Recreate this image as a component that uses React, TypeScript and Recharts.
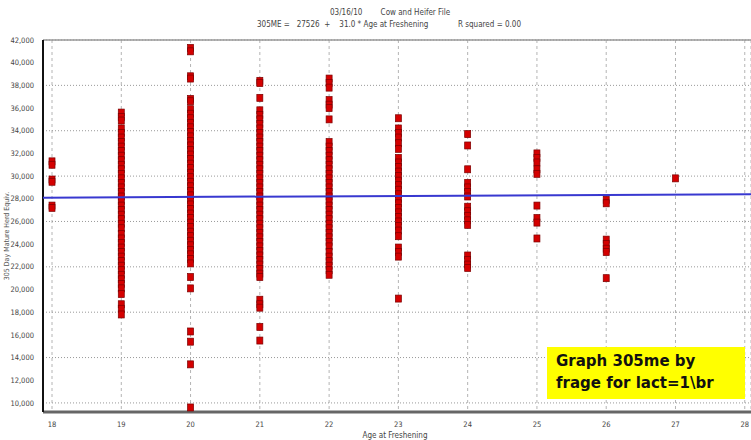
/* Graph 305ME by age at freshening — scatter with a flat fit line */

import React from "react";
import {
  ScatterChart,
  Scatter,
  XAxis,
  YAxis,
  CartesianGrid,
  ReferenceLine,
} from "recharts";

const AGE_TICKS = [18, 19, 20, 21, 22, 23, 24, 25, 26, 27, 28];
const ME_TICKS = [
  10000, 12000, 14000, 16000, 18000, 20000, 22000, 24000, 26000, 28000, 30000,
  32000, 34000, 36000, 38000, 40000, 42000,
];

// 305ME values read per age group
const age18 = [31300, 31000, 29700, 29500, 27400, 27200];
const age19 = [
  35600, 35200, 34900, 34200, 33800, 33400, 33000, 32600, 32200, 31800, 31400,
  31000, 30600, 30200, 29800, 29400, 29000, 28600, 28200, 27800, 27400, 27000,
  26600, 26200, 25800, 25400, 24900, 24500, 24100, 23700, 23300, 22900, 22500,
  22100, 21700, 21300, 20900, 20500, 20100, 19600, 18700, 18300, 17800,
];
const age20 = [
  41300, 41000, 38800, 38600, 36800, 36600, 35900, 35500, 35100, 34700, 34300,
  33900, 33500, 33100, 32700, 32300, 31900, 31500, 31100, 30700, 30300, 29900,
  29500, 29100, 28700, 28300, 27900, 27500, 27100, 26700, 26300, 25900, 25500,
  25100, 24700, 24300, 23900, 23500, 23100, 22700, 22300, 21100, 20100, 16300,
  15400, 13400, 9600,
];
const age21 = [
  38400, 38200, 36900, 35800, 35400, 35000, 34600, 34200, 33800, 33400, 33000,
  32600, 32200, 31800, 31400, 31000, 30600, 30200, 29800, 29400, 29000, 28600,
  28200, 27800, 27400, 27000, 26600, 26200, 25800, 25400, 25000, 24600, 24200,
  23800, 23400, 23000, 22600, 22200, 21800, 21400, 21100, 19100, 18700, 18400,
  16700, 15500,
];
const age22 = [
  38600, 38200, 37800, 36700, 36300, 36000, 35000, 33000, 32600, 32200, 31800,
  31400, 31000, 30600, 30200, 29800, 29400, 29000, 28600, 28200, 27800, 27400,
  27000, 26600, 26200, 25800, 25400, 25000, 24600, 24200, 23800, 23300, 22900,
  22500, 22100, 21700, 21300,
];
const age23 = [
  35100, 34200, 33800, 33400, 32900, 32400, 31600, 31200, 30800, 30400, 30000,
  29600, 29200, 28800, 28400, 28000, 27600, 27200, 26800, 26400, 26000, 25600,
  25200, 24700, 23700, 23300, 22900, 19200,
];
const age24 = [
  33700, 32700, 30600, 29400, 29000, 28600, 28200, 27300, 26900, 26500, 26100,
  25700, 23000, 22600, 22200, 21900,
];
const age25 = [32000, 31600, 31200, 30600, 30200, 27400, 26300, 25900, 24500];
const age26 = [27900, 27600, 24400, 24000, 23600, 23300, 21000];
const age27 = [29800];

const GROUP_AGES = [18, 19, 20, 21, 22, 23, 24, 25, 26, 27];
const GROUP_VALUES = [age18, age19, age20, age21, age22, age23, age24, age25, age26, age27];

// fitted line end points
const fitAges = [17.87, 28.09];
const fitValues = [28100, 28400];

const points = GROUP_AGES.flatMap((age, i) =>
  GROUP_VALUES[i].map((v) => ({ x: age, y: v }))
);
const fitData = fitAges.map((a, i) => ({ x: a, y: fitValues[i] }));

const narrow = "'Liberation Sans Narrow', 'DejaVu Sans Condensed', 'Liberation Sans', sans-serif";
const tickStyle = { fill: "#444", fontSize: 7.5, fontFamily: narrow };

const Square = (props: any) => (
  <rect
    x={props.cx - 3}
    y={props.cy - 3.5}
    width={6}
    height={7}
    fill="#d40000"
    stroke="#7a0000"
    strokeWidth={0.7}
  />
);

export default function App() {
  return (
    <div
      style={{
        position: "absolute",
        left: 0,
        top: 0,
        width: 751,
        height: 440,
        background: "#fff",
        overflow: "hidden",
        fontFamily: narrow,
      }}
    >
      <ScatterChart
        width={751}
        height={440}
        margin={{ top: 40, right: 0, bottom: 0, left: 0 }}
      >
        <CartesianGrid
          horizontal={false}
          stroke="#b4b4b4"
          strokeDasharray="3 3"
        />
        <CartesianGrid vertical={false} stroke="#999" strokeDasharray="1 2" />
        <XAxis
          type="number"
          dataKey="x"
          domain={[17.87, 28.09]}
          ticks={AGE_TICKS}
          allowDataOverflow
          height={28}
          tick={tickStyle}
          tickLine={false}
          tickMargin={4}
          axisLine={{ stroke: "#666", strokeWidth: 3 }}
        />
        <YAxis
          type="number"
          dataKey="y"
          domain={[9200, 42000]}
          ticks={ME_TICKS}
          allowDataOverflow
          width={43}
          tick={tickStyle}
          tickLine={false}
          tickMargin={3}
          tickFormatter={(v: number) => v.toLocaleString("en-US")}
          axisLine={{ stroke: "#111", strokeWidth: 2 }}
        />
        <ReferenceLine y={42000} stroke="#999" strokeWidth={1.5} />
        <Scatter data={points} shape={<Square />} isAnimationActive={false} />
        <Scatter
          data={fitData}
          line={{ stroke: "#3838d0", strokeWidth: 2 }}
          shape={() => <g />}
          isAnimationActive={false}
        />
      </ScatterChart>

      <div
        style={{
          position: "absolute",
          left: 330,
          top: 8,
          fontSize: 8,
          color: "#444",
          whiteSpace: "pre",
        }}
      >
        {"03/16/10        Cow and Heifer File"}
      </div>
      <div
        style={{
          position: "absolute",
          left: 257,
          top: 20,
          fontSize: 8,
          color: "#444",
          whiteSpace: "pre",
        }}
      >
        {"305ME =   27526  +    31.0 * Age at Freshening"}
      </div>
      <div
        style={{
          position: "absolute",
          left: 458,
          top: 20,
          fontSize: 8,
          color: "#444",
          whiteSpace: "pre",
        }}
      >
        {"R squared = 0.00"}
      </div>

      <div
        style={{
          position: "absolute",
          left: 7,
          top: 236,
          transform: "translate(-50%, -50%) rotate(-90deg)",
          fontSize: 7,
          lineHeight: "8px",
          color: "#555",
          whiteSpace: "nowrap",
        }}
      >
        305 Day Mature Herd Equiv.
      </div>
      <div
        style={{
          position: "absolute",
          left: 395,
          top: 431,
          transform: "translateX(-50%)",
          fontSize: 8,
          lineHeight: "9px",
          color: "#444",
          whiteSpace: "nowrap",
        }}
      >
        Age at Freshening
      </div>

      <div
        style={{
          position: "absolute",
          left: 547,
          top: 347,
          width: 198,
          height: 52,
          background: "#ffff00",
          boxSizing: "border-box",
          padding: "3px 0 0 9px",
          fontFamily: "'Comic Sans MS', 'DejaVu Sans', sans-serif",
          fontWeight: "bold",
          fontSize: 15,
          lineHeight: "22px",
          color: "#111",
          whiteSpace: "pre",
        }}
      >
        {"Graph 305me by\nfrage for lact=1\\br"}
      </div>
    </div>
  );
}
